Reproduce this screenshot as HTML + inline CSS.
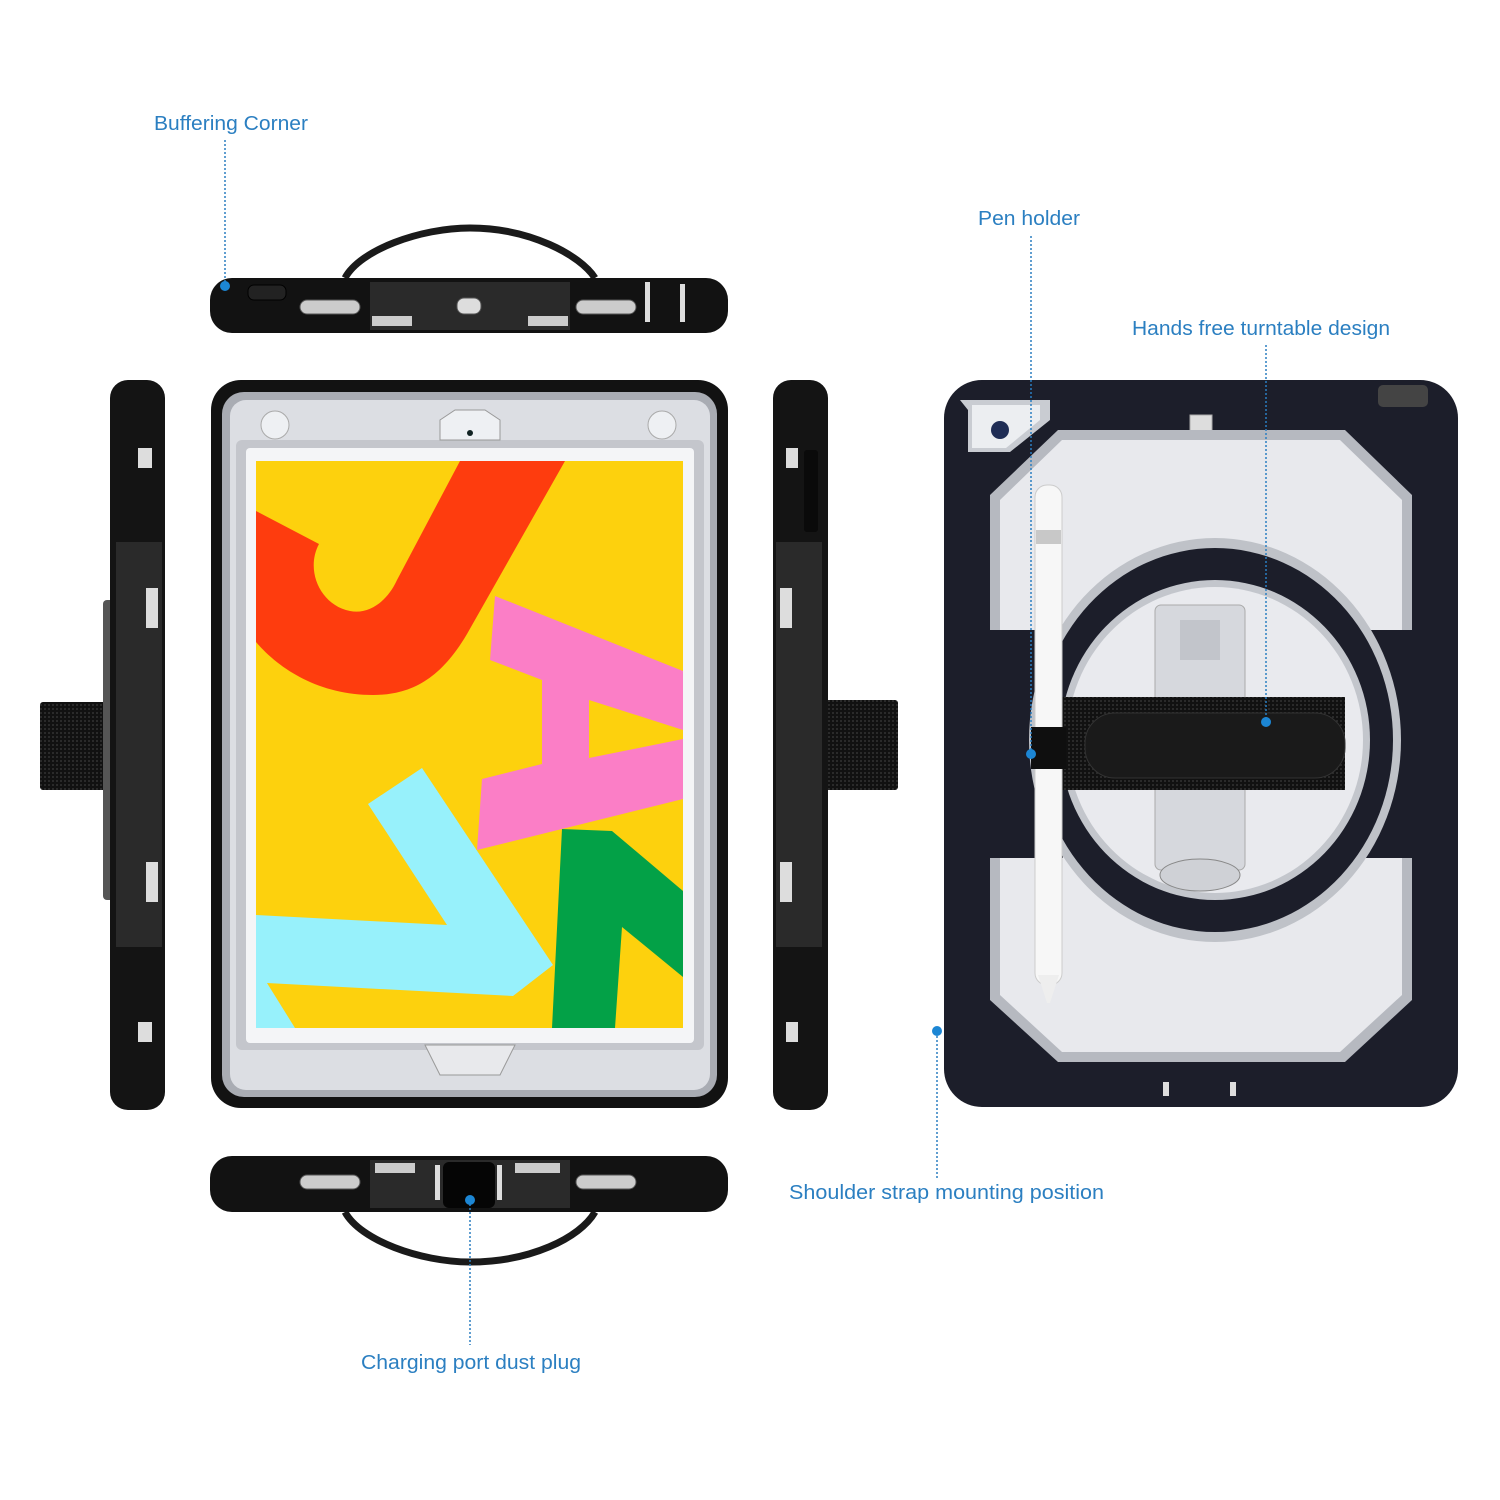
<!DOCTYPE html>
<html><head><meta charset="utf-8"><style>
html,body{margin:0;padding:0;background:#fff;}
svg{display:block}
text{font-family:"Liberation Sans",sans-serif;font-size:20px;fill:#2b7fc1;}
</style></head><body>
<svg width="1500" height="1500" viewBox="0 0 1500 1500" xmlns="http://www.w3.org/2000/svg">
<defs>
<pattern id="web" width="4" height="4" patternUnits="userSpaceOnUse"><rect width="4" height="4" fill="#111"/><rect width="2" height="2" fill="#2a2a2a"/></pattern>
</defs>

<!-- labels -->
<text x="154" y="130" textLength="154" lengthAdjust="spacingAndGlyphs">Buffering Corner</text>
<text x="978" y="225" textLength="102" lengthAdjust="spacingAndGlyphs">Pen holder</text>
<text x="1132" y="335" textLength="258" lengthAdjust="spacingAndGlyphs">Hands free turntable design</text>
<text x="789" y="1199" textLength="315" lengthAdjust="spacingAndGlyphs">Shoulder strap mounting position</text>
<text x="361" y="1369" textLength="220" lengthAdjust="spacingAndGlyphs">Charging port dust plug</text>

<!-- ===== top edge view ===== -->
<path d="M345,278 C360,250 420,228 470,228 C530,228 580,255 595,278" fill="none" stroke="#1a1a1a" stroke-width="7"/>
<rect x="210" y="278" width="518" height="55" rx="22" fill="#121212"/>
<rect x="370" y="282" width="200" height="48" fill="#2a2a2a"/>
<rect x="372" y="316" width="40" height="10" fill="#ccc"/><rect x="528" y="316" width="40" height="10" fill="#ccc"/>
<rect x="248" y="285" width="38" height="15" rx="6" fill="#222" stroke="#000"/>
<rect x="300" y="300" width="60" height="14" rx="7" fill="#ccc" stroke="#555"/>
<rect x="576" y="300" width="60" height="14" rx="7" fill="#ccc" stroke="#555"/>
<rect x="457" y="298" width="24" height="16" rx="7" fill="#ddd" stroke="#555"/>
<rect x="645" y="282" width="5" height="40" fill="#ddd"/><rect x="680" y="284" width="5" height="38" fill="#ddd"/>

<!-- ===== bottom edge view ===== -->
<path d="M345,1212 C360,1240 420,1262 470,1262 C530,1262 580,1238 595,1212" fill="none" stroke="#1a1a1a" stroke-width="7"/>
<rect x="210" y="1156" width="518" height="56" rx="22" fill="#121212"/>
<rect x="370" y="1160" width="200" height="48" fill="#2a2a2a"/>
<rect x="375" y="1163" width="40" height="10" fill="#ccc"/><rect x="515" y="1163" width="45" height="10" fill="#ccc"/>
<rect x="300" y="1175" width="60" height="14" rx="7" fill="#ccc" stroke="#555"/>
<rect x="576" y="1175" width="60" height="14" rx="7" fill="#ccc" stroke="#555"/>
<rect x="435" y="1165" width="5" height="35" fill="#ddd"/><rect x="497" y="1165" width="5" height="35" fill="#ddd"/>
<rect x="443" y="1162" width="52" height="46" rx="6" fill="#050505"/>

<!-- ===== left side view ===== -->
<rect x="40" y="702" width="75" height="88" rx="3" fill="url(#web)"/>
<rect x="103" y="600" width="12" height="300" rx="4" fill="#555"/>
<rect x="110" y="380" width="55" height="730" rx="18" fill="#141414"/>
<rect x="116" y="542" width="46" height="405" fill="#2a2a2a"/>
<rect x="138" y="448" width="14" height="20" fill="#ddd"/><rect x="138" y="1022" width="14" height="20" fill="#ddd"/>
<rect x="146" y="588" width="12" height="40" fill="#ddd"/><rect x="146" y="862" width="12" height="40" fill="#ddd"/>

<!-- ===== right side view ===== -->
<rect x="825" y="700" width="73" height="90" rx="3" fill="url(#web)"/>
<rect x="773" y="380" width="55" height="730" rx="18" fill="#141414"/>
<rect x="776" y="542" width="46" height="405" fill="#2a2a2a"/>
<rect x="804" y="450" width="14" height="82" rx="3" fill="#0a0a0a"/>
<rect x="786" y="448" width="12" height="20" fill="#ddd"/><rect x="786" y="1022" width="12" height="20" fill="#ddd"/>
<rect x="780" y="588" width="12" height="40" fill="#ddd"/><rect x="780" y="862" width="12" height="40" fill="#ddd"/>

<!-- ===== front view ===== -->
<rect x="211" y="380" width="517" height="728" rx="30" fill="#121212"/>
<rect x="222" y="392" width="495" height="705" rx="22" fill="#a9acb3"/>
<rect x="230" y="400" width="480" height="690" rx="16" fill="#dcdee3"/>
<rect x="236" y="440" width="468" height="610" rx="6" fill="#c4c6cc"/>
<rect x="246" y="448" width="448" height="595" rx="4" fill="#f4f5f7"/>
<circle cx="275" cy="425" r="14" fill="#eef0f3" stroke="#aaa"/>
<circle cx="662" cy="425" r="14" fill="#eef0f3" stroke="#aaa"/>
<path d="M440,420 L455,410 L485,410 L500,420 L500,440 L440,440 Z" fill="#eef0f3" stroke="#999"/>
<circle cx="470" cy="433" r="3" fill="#122"/>
<path d="M425,1045 L440,1075 L500,1075 L515,1045 Z" fill="#e8e9ec" stroke="#999"/>
<!-- screen -->
<rect x="256" y="461" width="427" height="567" fill="#fdd10d"/>
<path d="M256,511 L319,544 C305,570 320,605 350,611 C370,615 388,600 397,580 L460,461 L565,461 L467,634 C440,680 410,695 373,695 C320,695 280,670 256,642 Z" fill="#fe3c0e"/>
<polygon points="495,596 683,671 683,730 589,700 589,758 683,739 683,799 477,850 482,779 542,764 542,680 490,660" fill="#fb7ec6"/>
<polygon points="422,768 553,965 513,996 267,983 295,1028 256,1028 256,915 447,925 368,804" fill="#97f1fb"/>
<polygon points="562,829 612,831 683,891 683,977 622,927 615,1028 552,1028" fill="#03a147"/>

<!-- ===== back view ===== -->
<rect x="944" y="380" width="514" height="727" rx="38" fill="#1c1e2a"/>
<path d="M960,400 L1050,400 L1050,420 L1010,452 L968,452 L968,410 Z" fill="#c9ccd2"/>
<path d="M972,405 L1040,405 L1040,420 L1006,448 L972,448 Z" fill="#eceef1"/>
<circle cx="1000" cy="430" r="9" fill="#1f2d55"/>
<rect x="1190" y="415" width="22" height="16" fill="#ddd" stroke="#aaa"/>
<polygon points="1058,430 1345,430 1412,495 1412,1000 1345,1062 1058,1062 990,1000 990,495" fill="#b6b9c0"/>
<polygon points="1062,440 1340,440 1402,500 1402,995 1340,1052 1062,1052 1000,995 1000,500" fill="#e8e9ed"/>
<rect x="985" y="630" width="78" height="228" fill="#1c1e2a"/>
<rect x="1362" y="630" width="55" height="228" fill="#1c1e2a"/>
<ellipse cx="1215" cy="740" rx="186" ry="202" fill="#bfc2c8"/>
<ellipse cx="1215" cy="740" rx="178" ry="192" fill="#1c1e2a"/>
<ellipse cx="1215" cy="740" rx="155" ry="160" fill="#c3c6cc"/>
<ellipse cx="1215" cy="740" rx="148" ry="153" fill="#e9eaee"/>
<rect x="1155" y="605" width="90" height="265" rx="6" fill="#d6d8dd" stroke="#aaa"/>
<rect x="1180" y="620" width="40" height="40" fill="#c2c5cb"/>
<ellipse cx="1200" cy="875" rx="40" ry="16" fill="#cfd1d6" stroke="#888"/>
<rect x="1060" y="697" width="285" height="93" fill="url(#web)"/>
<rect x="1085" y="713" width="260" height="65" rx="30" fill="#1a1a1a" stroke="#333"/>
<rect x="1035" y="485" width="27" height="500" rx="12" fill="#f7f7f7" stroke="#ccc"/>
<polygon points="1038,975 1059,975 1050,1003 1047,1003" fill="#eee"/>
<rect x="1036" y="530" width="25" height="14" fill="#c8c8c8"/>
<rect x="1031" y="727" width="35" height="42" fill="#0f0f0f"/>
<rect x="1378" y="385" width="50" height="22" rx="5" fill="#444"/>
<rect x="1163" y="1082" width="6" height="14" fill="#ddd"/><rect x="1230" y="1082" width="6" height="14" fill="#ddd"/>

<!-- callout lines -->
<g stroke="#2b7fc1" stroke-width="1.5" stroke-dasharray="2,2" fill="none">
<line x1="225" y1="140" x2="225" y2="285"/>
<line x1="1031" y1="236" x2="1031" y2="752"/>
<line x1="1266" y1="345" x2="1266" y2="720"/>
<line x1="937" y1="1032" x2="937" y2="1178"/>
<line x1="470" y1="1200" x2="470" y2="1345"/>
</g>
<g fill="#1c86d4">
<circle cx="225" cy="286" r="5"/>
<circle cx="1031" cy="754" r="5"/>
<circle cx="1266" cy="722" r="5"/>
<circle cx="937" cy="1031" r="5"/>
<circle cx="470" cy="1200" r="5"/>
</g>
</svg>
</body></html>
